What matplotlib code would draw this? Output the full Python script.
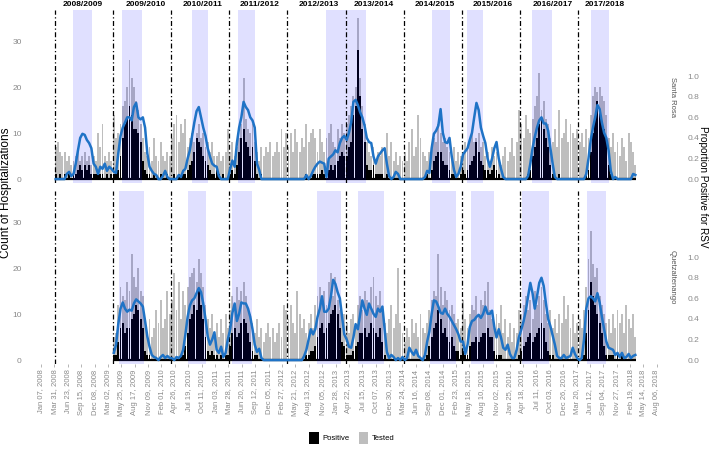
import numpy as np
import pandas as pd
import matplotlib
matplotlib.use('Agg')
import matplotlib.pyplot as plt
from matplotlib.patches import Patch

plt.rcParams['font.family'] = ['Liberation Sans', 'DejaVu Sans']

# each season runs from April 1 and holds 26 two-week bins
sr_seasons = [2008, 2009, 2010, 2011, 2012, 2013, 2014, 2015, 2016, 2017]
qz_seasons = [2009, 2010, 2011, 2012, 2013, 2014, 2015, 2016, 2017]

season_labels = ['2008/2009', '2009/2010', '2010/2011', '2011/2012', '2012/2013',
                 '2013/2014', '2014/2015', '2015/2016', '2016/2017', '2017/2018']
season_label_dates = ['2008-09-26', '2009-10-27', '2010-10-19', '2011-10-12', '2012-10-16',
                      '2013-09-26', '2014-10-14', '2015-10-13', '2016-10-23', '2017-09-14']
season_lines = ['2008-04-01', '2009-04-01', '2010-04-01', '2011-04-01', '2012-04-01',
                '2013-04-01', '2014-04-01', '2015-04-01', '2016-04-01', '2017-04-01']

# Santa Rosa
sr_tested = [
    7, 8, 6, 5, 6, 4, 5, 3, 4, 5, 6, 4, 5, 6, 4, 5, 3, 5, 4, 10, 7, 12, 5, 4, 6, 4,
    14, 9, 10, 12, 16, 17, 20, 26, 22, 20, 17, 15, 12, 9, 6, 5, 7, 4, 9, 5, 4, 8, 5, 4, 6, 5,
    9, 12, 14, 8, 12, 10, 13, 7, 9, 10, 8, 10, 12, 9, 10, 7, 8, 6, 8, 5, 5, 6, 4, 5, 6, 11,
    6, 8, 5, 7, 9, 12, 22, 13, 11, 10, 12, 8, 6, 4, 7, 5, 7, 6, 8, 5, 6, 8, 6, 11, 7, 10,
    7, 10, 6, 11, 8, 6, 9, 7, 12, 8, 10, 11, 9, 6, 11, 8, 6, 9, 10, 12, 8, 7, 11, 9, 12, 10,
    12, 14, 16, 18, 20, 35, 22, 16, 12, 8, 6, 5, 7, 4, 6, 5, 7, 6, 10, 5, 8, 4, 6, 3, 5, 4,
    6, 4, 8, 11, 5, 7, 14, 9, 6, 5, 4, 6, 7, 9, 8, 12, 10, 8, 9, 7, 6, 5, 7, 4, 6, 5,
    6, 8, 7, 9, 10, 8, 9, 10, 7, 8, 5, 6, 4, 7, 5, 6, 4, 3, 5, 7, 4, 6, 9, 5, 8, 15,
    12, 9, 14, 11, 10, 13, 16, 18, 23, 15, 17, 13, 12, 9, 8, 11, 7, 15, 9, 10, 13, 8, 12, 10, 9, 11,
    8, 10, 7, 11, 9, 14, 18, 20, 19, 20, 18, 17, 14, 9, 7, 10, 6, 8, 5, 9, 7, 4, 10, 8, 6, 3,
]
sr_positive = [
    1, 0, 1, 0, 1, 0, 1, 0, 1, 1, 2, 3, 2, 3, 2, 3, 1, 1, 1, 2, 1, 1, 0, 1, 0, 1,
    1, 1, 2, 5, 9, 12, 13, 16, 14, 11, 11, 10, 8, 4, 2, 1, 1, 0, 1, 0, 0, 1, 0, 0, 1, 0,
    0, 1, 0, 1, 0, 1, 1, 2, 3, 4, 6, 9, 8, 7, 5, 4, 3, 2, 1, 1, 2, 1, 0, 1, 0, 0,
    1, 2, 1, 3, 6, 9, 11, 8, 7, 5, 7, 4, 1, 0, 1, 0, 0, 0, 0, 0, 0, 0, 0, 0, 0, 0,
    0, 0, 0, 0, 0, 0, 0, 0, 1, 0, 0, 1, 1, 1, 1, 2, 1, 0, 2, 3, 2, 3, 4, 5, 6, 5,
    5, 7, 8, 14, 16, 28, 18, 11, 8, 3, 2, 2, 3, 1, 1, 1, 1, 0, 1, 0, 0, 0, 0, 0, 0, 0,
    0, 0, 0, 0, 0, 0, 0, 0, 0, 0, 1, 0, 2, 4, 5, 6, 6, 4, 3, 3, 2, 1, 1, 0, 0, 1,
    2, 1, 2, 3, 4, 5, 8, 6, 4, 3, 2, 2, 1, 2, 3, 2, 1, 0, 0, 0, 0, 0, 0, 0, 0, 0,
    0, 0, 0, 1, 2, 5, 7, 9, 12, 13, 11, 9, 7, 3, 1, 0, 0, 1, 0, 0, 0, 0, 0, 0, 0, 0,
    0, 0, 0, 1, 2, 6, 10, 13, 17, 15, 12, 11, 9, 3, 1, 0, 0, 0, 0, 0, 0, 0, 0, 0, 0, 0,
]
sr_prop = [
    0, 0, 0, 0, 0, 0.05, 0.07, 0.03, 0.05, 0.15, 0.28, 0.4, 0.44, 0.43, 0.38, 0.35, 0.3, 0.15, 0.12, 0.05, 0.12, 0.1, 0.15, 0.08, 0.12, 0.1,
    0.07, 0.06, 0.25, 0.42, 0.5, 0.55, 0.6, 0.6, 0.57, 0.7, 0.74, 0.6, 0.58, 0.6, 0.5, 0.25, 0.12, 0.08, 0.05, 0.04, 0, 0, 0.03, 0.08, 0.02, 0,
    0, 0, 0, 0.04, 0.02, 0.08, 0.1, 0.2, 0.28, 0.42, 0.55, 0.66, 0.7, 0.6, 0.5, 0.42, 0.3, 0.22, 0.15, 0.13, 0.12, 0.03, 0, 0, 0, 0,
    0.1, 0.18, 0.12, 0.35, 0.5, 0.6, 0.75, 0.7, 0.67, 0.6, 0.57, 0.5, 0.15, 0.09, 0, 0, 0, 0, 0, 0, 0, 0, 0, 0, 0, 0,
    0, 0, 0, 0, 0, 0, 0, 0, 0.04, 0, 0.03, 0.08, 0.12, 0.15, 0.17, 0.16, 0.15, 0.02, 0.2, 0.22, 0.24, 0.28, 0.26, 0.35, 0.4, 0.42,
    0.38, 0.45, 0.55, 0.75, 0.77, 0.72, 0.65, 0.6, 0.52, 0.4, 0.36, 0.35, 0.22, 0.15, 0.22, 0.25, 0.28, 0.3, 0.15, 0.03, 0, 0.02, 0.07, 0.05, 0, 0,
    0, 0, 0, 0, 0, 0, 0, 0, 0, 0.02, 0.08, 0.06, 0.3, 0.44, 0.47, 0.52, 0.68, 0.45, 0.36, 0.35, 0.4, 0.22, 0.09, 0.02, 0.05, 0.12,
    0.24, 0.27, 0.3, 0.38, 0.45, 0.6, 0.74, 0.67, 0.5, 0.42, 0.35, 0.2, 0.12, 0.2, 0.3, 0.36, 0.2, 0.1, 0.02, 0, 0, 0, 0, 0, 0, 0,
    0, 0, 0, 0.03, 0.15, 0.3, 0.41, 0.5, 0.57, 0.6, 0.54, 0.54, 0.47, 0.3, 0.15, 0.02, 0, 0, 0, 0, 0, 0, 0, 0, 0, 0,
    0, 0, 0, 0.05, 0.2, 0.38, 0.5, 0.6, 0.72, 0.68, 0.55, 0.45, 0.4, 0.28, 0.08, 0, 0.02, 0, 0, 0, 0, 0, 0, 0, 0.05, 0.04,
]
sr_spans = [('2008-07-24', '2008-11-24'), ('2009-05-27', '2009-09-30'), ('2010-08-09', '2010-11-22'),
            ('2011-05-27', '2011-09-10'), ('2012-11-29', '2013-08-07'), ('2014-09-27', '2015-01-16'),
            ('2015-05-02', '2015-08-11'), ('2016-06-13', '2016-10-17'), ('2017-06-18', '2017-10-09')]

# Quetzaltenango
qz_tested = [
    5, 6, 12, 16, 14, 13, 17, 15, 23, 18, 16, 20, 15, 14, 8, 6, 9, 5, 7, 11, 8, 13, 7, 9, 15, 10,
    13, 19, 11, 17, 9, 15, 12, 16, 18, 19, 20, 17, 22, 19, 16, 12, 9, 7, 10, 6, 8, 5, 9, 6, 10, 7,
    11, 14, 12, 16, 13, 15, 17, 14, 11, 10, 8, 6, 9, 5, 7, 4, 6, 8, 5, 7, 4, 6, 8, 5, 12, 11,
    9, 12, 8, 6, 15, 10, 7, 9, 6, 8, 10, 7, 12, 14, 16, 13, 15, 12, 17, 19, 14, 18, 13, 11, 9, 10,
    8, 6, 9, 10, 7, 12, 14, 11, 15, 13, 12, 16, 18, 14, 12, 15, 11, 8, 6, 9, 12, 7, 10, 20, 8, 6,
    4, 7, 5, 9, 6, 8, 5, 10, 7, 6, 8, 11, 13, 15, 14, 23, 16, 12, 15, 13, 11, 12, 10, 8, 9, 7,
    13, 9, 7, 10, 12, 11, 14, 10, 13, 12, 15, 17, 11, 9, 7, 10, 8, 12, 6, 9, 5, 8, 4, 7, 6, 11,
    10, 12, 14, 11, 13, 9, 15, 12, 14, 16, 13, 10, 8, 11, 7, 9, 6, 10, 8, 14, 9, 12, 7, 10, 6, 8,
    9, 7, 11, 16, 22, 28, 21, 18, 20, 14, 12, 10, 8, 9, 6, 10, 7, 11, 8, 10, 6, 12, 9, 7, 10, 5,
]
qz_positive = [
    1, 1, 4, 7, 8, 6, 7, 7, 9, 10, 12, 11, 9, 7, 2, 1, 1, 0, 0, 0, 0, 0, 0, 0, 0, 0,
    0, 0, 0, 0, 1, 1, 3, 6, 9, 10, 12, 11, 15, 12, 9, 5, 2, 1, 2, 1, 1, 0, 1, 0, 1, 1,
    3, 6, 7, 5, 6, 8, 9, 8, 6, 4, 2, 1, 1, 0, 0, 0, 0, 0, 0, 0, 0, 0, 0, 0, 0, 0,
    0, 0, 0, 0, 0, 0, 0, 0, 1, 1, 2, 2, 3, 5, 7, 8, 6, 7, 8, 10, 11, 12, 10, 7, 4, 3,
    1, 1, 1, 2, 3, 4, 6, 6, 7, 5, 6, 8, 7, 6, 5, 7, 4, 1, 0, 0, 0, 0, 0, 0, 0, 0,
    0, 0, 0, 0, 0, 0, 0, 0, 0, 0, 1, 3, 5, 7, 8, 11, 9, 6, 7, 5, 4, 5, 3, 2, 2, 1,
    2, 1, 1, 3, 4, 4, 5, 4, 5, 6, 6, 7, 5, 5, 2, 1, 1, 1, 0, 0, 0, 0, 0, 0, 0, 1,
    2, 3, 4, 5, 6, 4, 5, 6, 7, 8, 7, 4, 2, 1, 1, 0, 0, 0, 0, 0, 0, 0, 0, 0, 0, 0,
    0, 0, 1, 6, 11, 17, 14, 12, 10, 8, 6, 3, 1, 1, 1, 1, 0, 1, 0, 1, 0, 0, 0, 0, 0, 0,
]
qz_prop = [
    0.07, 0.15, 0.35, 0.5, 0.56, 0.5, 0.47, 0.49, 0.48, 0.55, 0.59, 0.57, 0.55, 0.52, 0.38, 0.23, 0.13, 0.05, 0.03, 0.02, 0, 0.03, 0.05, 0.02, 0.04, 0.02,
    0.02, 0, 0.03, 0.02, 0.04, 0.1, 0.25, 0.42, 0.53, 0.58, 0.6, 0.65, 0.7, 0.66, 0.55, 0.4, 0.23, 0.15, 0.2, 0.27, 0.1, 0.07, 0.13, 0.03, 0.07, 0.2,
    0.3, 0.46, 0.55, 0.38, 0.45, 0.56, 0.55, 0.55, 0.5, 0.42, 0.3, 0.15, 0.08, 0.11, 0.02, 0, 0, 0, 0, 0, 0, 0, 0, 0, 0, 0,
    0, 0, 0, 0, 0, 0, 0, 0.04, 0.1, 0.2, 0.3, 0.25, 0.3, 0.42, 0.5, 0.62, 0.47, 0.47, 0.5, 0.62, 0.78, 0.74, 0.66, 0.6, 0.42, 0.25,
    0.2, 0.13, 0.12, 0.22, 0.35, 0.3, 0.44, 0.58, 0.5, 0.44, 0.55, 0.5, 0.45, 0.42, 0.5, 0.47, 0.52, 0.3, 0.08, 0.02, 0.05, 0.03, 0, 0.02, 0, 0.03,
    0, 0.02, 0.12, 0.08, 0.05, 0.1, 0.04, 0.02, 0, 0.05, 0.18, 0.28, 0.45, 0.58, 0.57, 0.52, 0.46, 0.45, 0.5, 0.45, 0.42, 0.38, 0.34, 0.3, 0.25, 0.18,
    0.18, 0.06, 0.15, 0.32, 0.38, 0.39, 0.42, 0.44, 0.41, 0.45, 0.52, 0.45, 0.45, 0.48, 0.32, 0.22, 0.3, 0.22, 0.12, 0.1, 0.15, 0.06, 0.02, 0.02, 0.1, 0.22,
    0.3, 0.38, 0.48, 0.62, 0.75, 0.65, 0.5, 0.62, 0.75, 0.8, 0.72, 0.55, 0.4, 0.33, 0.24, 0.15, 0.04, 0.02, 0.02, 0.05, 0.02, 0.03, 0.04, 0.12, 0.06, 0.02,
    0, 0.02, 0.2, 0.5, 0.6, 0.62, 0.6, 0.57, 0.65, 0.56, 0.42, 0.3, 0.18, 0.12, 0.11, 0.1, 0.05, 0.07, 0.03, 0.07, 0.02, 0.03, 0.06, 0.02, 0.04, 0.05,
]
qz_spans = [('2009-05-10', '2009-10-14'), ('2010-07-17', '2010-11-07'), ('2011-04-19', '2011-08-23'),
            ('2012-10-03', '2013-03-03'), ('2013-06-18', '2013-11-28'), ('2014-09-12', '2015-02-22'),
            ('2015-05-28', '2015-10-19'), ('2016-04-12', '2016-09-28'), ('2017-05-24', '2017-09-20')]

tick_dates = pd.date_range('2008-01-07', '2018-08-06', freq='84D')

BLUE = '#1f73c6'
GREY_TXT = '#8a8a8a'
SCALE = 22.4            # counts per unit of proportion on the shared vertical scale
YLIM = (-0.85, 36.8)
XLIM = (pd.Timestamp('2007-10-30'), pd.Timestamp('2018-09-26'))


def bin_dates(seasons):
    parts = [pd.date_range(f'{y}-04-01', periods=26, freq='14D') for y in seasons]
    return parts[0].append(parts[1:])


def draw_panel(ax, seasons, tested, positive, prop, spans, site):
    dates = bin_dates(seasons)
    left = dates + pd.Timedelta(days=1)
    ax.bar(left, tested, width=12, align='edge', color='#bebebe', lw=0, zorder=1)
    ax.bar(left, positive, width=12, align='edge', color='black', lw=0, zorder=2)
    ax.hlines(0, dates[0], dates[-1] + pd.Timedelta(days=14), color='black', lw=1.6, zorder=2)
    for start, end in spans:
        ax.axvspan(pd.Timestamp(start), pd.Timestamp(end), color='#0000ff', alpha=0.12, lw=0, zorder=3)
    for d in season_lines:
        ax.axvline(pd.Timestamp(d), color='black', ls=(0, (4, 2, 1, 2)), lw=0.9, zorder=4)
    ax.set_xlim(XLIM)
    ax.set_ylim(YLIM)
    ax.set_yticks([0, 10, 20, 30])
    ax.tick_params(axis='y', length=0, pad=6, labelsize=6, labelcolor=GREY_TXT)
    for s in ax.spines.values():
        s.set_visible(False)

    ax2 = ax.twinx()
    ax2.plot(dates + pd.Timedelta(days=7), prop, color=BLUE, lw=1.8, zorder=5,
             solid_joinstyle='round')
    ax2.set_ylim(YLIM[0] / SCALE, YLIM[1] / SCALE)
    ax2.set_yticks([0, 0.2, 0.4, 0.6, 0.8, 1.0])
    ax2.set_yticklabels(['0.0', '0.2', '0.4', '0.6', '0.8', '1.0'])
    ax2.tick_params(axis='y', length=0, pad=16, labelsize=6, labelcolor=GREY_TXT)
    for s in ax2.spines.values():
        s.set_visible(False)
    ax.text(1.006, 0.5, site, transform=ax.transAxes, rotation=270, va='center', ha='left',
            fontsize=5.5, color='#555555')
    return ax2


fig = plt.figure(figsize=(7.09, 4.53), dpi=100)
ax_top = fig.add_axes([30 / 709, 1 - 183 / 453, 635 / 709, 173 / 453])
ax_bot = fig.add_axes([30 / 709, 1 - 364 / 453, 635 / 709, 173 / 453])

draw_panel(ax_top, sr_seasons, sr_tested, sr_positive, sr_prop, sr_spans, 'Santa Rosa')
draw_panel(ax_bot, qz_seasons, qz_tested, qz_positive, qz_prop, qz_spans, 'Quetzaltenango')

ax_top.set_xticks([])
ax_bot.set_xticks(tick_dates)
ax_bot.set_xticklabels([d.strftime('%b %d, %Y') for d in tick_dates], rotation=90)
ax_bot.tick_params(axis='x', length=2, width=0.5, color='#999999', pad=2,
                   labelsize=5.5, labelcolor=GREY_TXT)

for label, d in zip(season_labels, season_label_dates):
    ax_top.text(pd.Timestamp(d), 1.01, label, transform=ax_top.get_xaxis_transform(),
                ha='center', va='bottom', fontsize=6, fontweight='bold')

fig.text(6 / 709, 1 - 193 / 453, 'Count of Hospitalizations', rotation=90,
         ha='center', va='center', fontsize=8.5)
fig.text(703 / 709, 1 - 187 / 453, 'Proportion Positive for RSV', rotation=270,
         ha='center', va='center', fontsize=7.2)

handles = [Patch(facecolor='black', label='Positive'), Patch(facecolor='#bebebe', label='Tested')]
fig.legend(handles=handles, loc='center', bbox_to_anchor=(352 / 709, 1 - 438 / 453), ncol=2,
           frameon=False, fontsize=5.5, handlelength=1.2, handleheight=2.2, columnspacing=1.2,
           handletextpad=0.5)

fig.savefig('out.png', dpi=100)
